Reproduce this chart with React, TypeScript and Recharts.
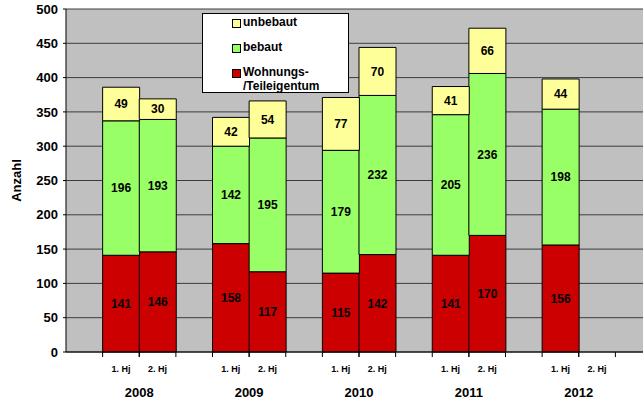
import React from 'react';
import { BarChart, Bar, XAxis, YAxis, CartesianGrid, LabelList } from 'recharts';

const halfYears = ['', '1. Hj', '2. Hj', '', '1. Hj', '2. Hj', '', '1. Hj', '2. Hj', '', '1. Hj', '2. Hj', '', '1. Hj', '2. Hj', ''];
const years = ['', '2008', '', '', '2009', '', '', '2010', '', '', '2011', '', '', '2012', '', ''];
const wohnungen = [null, 141, 146, null, 158, 117, null, 115, 142, null, 141, 170, null, 156, null, null];
const bebaut = [null, 196, 193, null, 142, 195, null, 179, 232, null, 205, 236, null, 198, null, null];
const unbebaut = [null, 49, 30, null, 42, 54, null, 77, 70, null, 41, 66, null, 44, null, null];
const yTicks = [0, 50, 100, 150, 200, 250, 300, 350, 400, 450, 500];

const data = halfYears.map((h, i) => ({
    key: `c${i}`,
    hj: h,
    year: years[i],
    wohnungen: wohnungen[i],
    bebaut: bebaut[i],
    unbebaut: unbebaut[i],
}));

const FONT = 'Arial, "Liberation Sans", sans-serif';
const CHART_W = 652;
const CHART_H = 403;
const Y_AXIS_W = 66;
const TOP = 9;
const X_AXIS_H = 51;
const SLOT = (CHART_W - Y_AXIS_W) / halfYears.length;

const CategoryTick = (props: any) => {
    const { x, payload } = props;
    const row = data[payload.index];
    if (!row || !row.hj) return null;
    const top = CHART_H - X_AXIS_H;
    return (
        <g>
            <line x1={x - SLOT / 2} x2={x - SLOT / 2} y1={top} y2={top + 5} stroke="#000" />
            <line x1={x + SLOT / 2} x2={x + SLOT / 2} y1={top} y2={top + 5} stroke="#000" />
            <text x={x} y={top + 20} textAnchor="middle" fontSize={9} fontWeight="bold" fontFamily={FONT} fill="#000">
                {row.hj}
            </text>
            {row.year && (
                <text x={x + SLOT / 2} y={top + 45} textAnchor="middle" fontSize={13} fontWeight="bold" fontFamily={FONT} fill="#000">
                    {row.year}
                </text>
            )}
        </g>
    );
};

const legendItems = [
    { color: '#ffff99', lines: ['unbebaut'], y: 22 },
    { color: '#99ff66', lines: ['bebaut'], y: 47 },
    { color: '#cc0000', lines: ['Wohnungs-', '/Teileigentum'], y: 72 },
];

const LegendBox = () => (
    <div style={{ position: 'absolute', left: 202, top: 13, width: 147, height: 80, background: '#fff', border: '1px solid #000', boxSizing: 'border-box', fontFamily: FONT, fontWeight: 'bold', fontSize: 12, color: '#000' }}>
        {legendItems.map((it) => (
            <div key={it.lines[0]}>
                <div style={{ position: 'absolute', left: 29, top: it.y - 13 - 4, width: 7, height: 7, background: it.color, border: '1px solid #000' }} />
                {it.lines.map((l, j) => (
                    <div key={l} style={{ position: 'absolute', left: 40, top: it.y - 13 - 8 + j * 14, lineHeight: '14px', whiteSpace: 'nowrap' }}>
                        {l}
                    </div>
                ))}
            </div>
        ))}
    </div>
);

const labelFmt = (v: any) => (v == null ? '' : v);
const labelStyle = { fontSize: 12, fontWeight: 'bold', fontFamily: FONT, fill: '#000' } as const;

export default function App() {
    return (
        <div style={{ position: 'absolute', left: 0, top: 0, width: 643, height: 403, overflow: 'hidden', background: '#fff' }}>
            <div style={{ position: 'absolute', left: Y_AXIS_W, top: TOP, width: CHART_W - Y_AXIS_W, height: CHART_H - TOP - X_AXIS_H, background: '#c0c0c0' }} />
            <div style={{ position: 'absolute', left: 0, top: 0 }}>
                <BarChart width={CHART_W} height={CHART_H} data={data} margin={{ top: TOP, right: 0, left: 0, bottom: 0 }} barCategoryGap={0}>
                    <CartesianGrid vertical={false} stroke="#3c3c3c" />
                    <XAxis dataKey="key" interval={0} tick={<CategoryTick />} tickLine={false} axisLine={{ stroke: '#000' }} height={X_AXIS_H} />
                    <YAxis
                        domain={[0, 500]}
                        ticks={yTicks}
                        width={Y_AXIS_W}
                        tickSize={3}
                        tickMargin={5}
                        tickLine={{ stroke: '#000' }}
                        axisLine={{ stroke: '#000' }}
                        tick={{ fontSize: 13, fontWeight: 'bold', fontFamily: FONT, fill: '#000' }}
                        label={{ value: 'Anzahl', angle: -90, position: 'insideLeft', offset: 16, style: { textAnchor: 'middle', fontSize: 13, fontWeight: 'bold', fontFamily: FONT, fill: '#000' } }}
                    />
                    <Bar dataKey="wohnungen" stackId="a" fill="#cc0000" stroke="#000" strokeWidth={1} isAnimationActive={false}>
                        <LabelList dataKey="wohnungen" position="center" formatter={labelFmt} style={labelStyle} />
                    </Bar>
                    <Bar dataKey="bebaut" stackId="a" fill="#99ff66" stroke="#000" strokeWidth={1} isAnimationActive={false}>
                        <LabelList dataKey="bebaut" position="center" formatter={labelFmt} style={labelStyle} />
                    </Bar>
                    <Bar dataKey="unbebaut" stackId="a" fill="#ffff99" stroke="#000" strokeWidth={1} isAnimationActive={false}>
                        <LabelList dataKey="unbebaut" position="center" formatter={labelFmt} style={labelStyle} />
                    </Bar>
                </BarChart>
            </div>
            <LegendBox />
        </div>
    );
}
